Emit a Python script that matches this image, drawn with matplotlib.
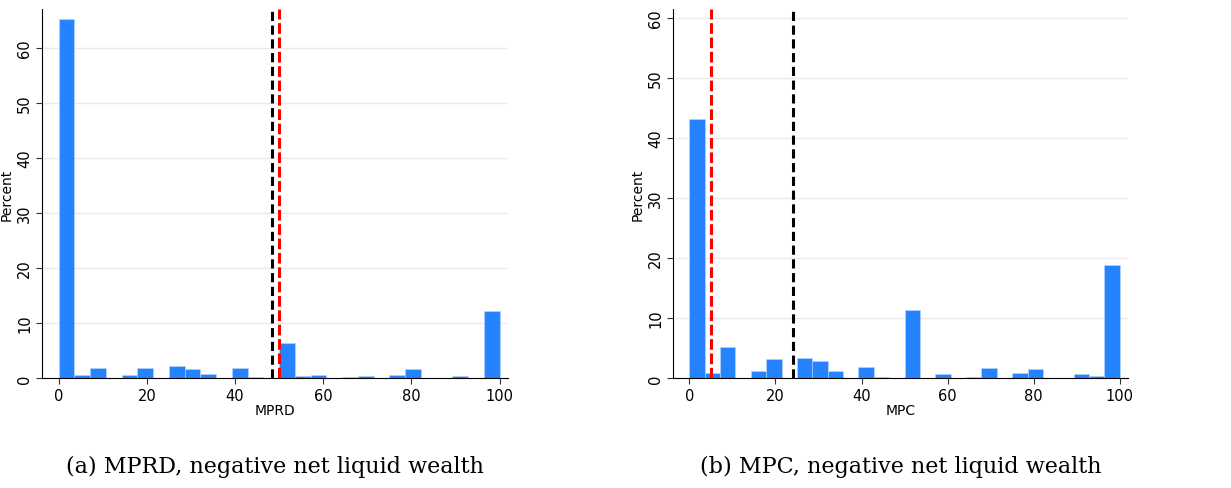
import numpy as np
import matplotlib.pyplot as plt

# 28 bins of width 100/28 (Stata default)
edges = np.linspace(0, 100, 29)

mprd_pct = [65.2, 0.5, 1.8, 0, 0.6, 1.8, 0, 2.2, 1.6, 0.8, 0, 1.9, 0.2, 0,
            6.4, 0.3, 0.6, 0, 0.15, 0.3, 0, 0.6, 1.6, 0, 0, 0.3, 0, 12.2]
mpc_pct = [43.1, 0.8, 5.1, 0, 1.2, 3.2, 0, 3.4, 2.8, 1.2, 0, 1.9, 0.2, 0,
           11.3, 0, 0.7, 0, 0.15, 1.7, 0, 0.9, 1.5, 0, 0, 0.7, 0.3, 18.9]

mprd_lines = {"black": 48.3, "red": 50}
mpc_lines = {"black": 24.0, "red": 5}

panels = [
    (mprd_pct, mprd_lines, "MPRD", "(a) MPRD, negative net liquid wealth", 67, [42, 508]),
    (mpc_pct, mpc_lines, "MPC", "(b) MPC, negative net liquid wealth", 61.5, [673, 1128]),
]

W, H = 1231, 489
fig = plt.figure(figsize=(W / 100, H / 100), dpi=100)

for pct, lines, xlab, cap, ytop, (x0, x1) in panels:
    ax = fig.add_axes([x0 / W, 1 - 379 / H, (x1 - x0) / W, (379 - 10) / H])
    ax.bar(edges[:-1], pct, width=np.diff(edges), align="edge",
           color="#2683ff", edgecolor="#bcd6ff", linewidth=0.4, zorder=2)
    ax.axvline(lines["black"], color="black", ls=(0, (3, 1.5)), lw=2.2, zorder=3)
    ax.axvline(lines["red"], color="red", ls=(0, (3.5, 1.2)), lw=2.2, zorder=3)
    ax.set_xlim(-3.8, 101.9)
    ax.set_ylim(0, ytop)
    ax.set_xticks([0, 20, 40, 60, 80, 100])
    ax.set_yticks([0, 10, 20, 30, 40, 50, 60])
    ax.tick_params(axis="y", labelrotation=90, pad=3)
    for lab in ax.get_yticklabels():
        lab.set_va("center")
    ax.tick_params(labelsize=10.5, length=4, color="#333333")
    ax.grid(axis="y", color="#eaeaea", lw=1, zorder=0)
    for s in ["top", "right"]:
        ax.spines[s].set_visible(False)
    ax.set_xlabel(xlab, fontsize=10, labelpad=0)
    ax.set_ylabel("Percent", fontsize=10)
    ax.yaxis.set_label_coords(-28 / (x1 - x0), 0.5)
    fig.text((x0 + x1) / 2 / W, 1 - 467 / H, cap, ha="center", va="center",
             fontsize=16, family="DejaVu Serif")

fig.savefig("out.png", dpi=100)
